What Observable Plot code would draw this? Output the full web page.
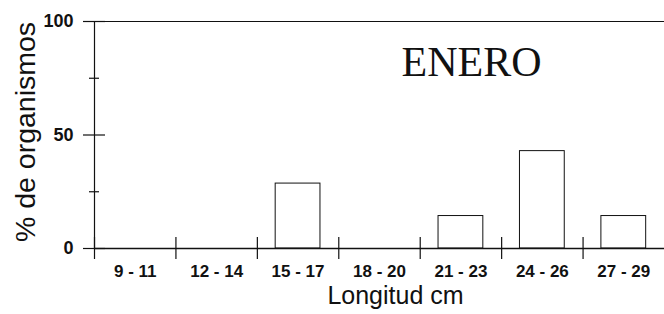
<!DOCTYPE html>
<html>
<head>
<meta charset="utf-8">
<script src="https://cdn.jsdelivr.net/npm/d3@7"></script>
<script src="https://cdn.jsdelivr.net/npm/@observablehq/plot@0.6"></script>
<style>
  html, body { margin: 0; padding: 0; background: #fff; }
  #chart svg { display: block; }
</style>
</head>
<body>
<div id="chart"></div>
<script>
const categories = ["9 - 11", "12 - 14", "15 - 17", "18 - 20", "21 - 23", "24 - 26", "27 - 29"];
const percent = [0, 0, 28.6, 0, 14.3, 42.9, 14.3];
const yMajorTicks = [0, 50, 100];
const yMinorTicks = [25, 75];
const yLabel = "% de organismos";
const xLabel = "Longitud cm";
const panelTitle = "ENERO";

const rows = categories.map((c, i) => ({category: c, i, value: percent[i]}));
const bars = rows.filter(d => d.value > 0);
const boundaries = categories.map((c, i) => i);

const ink = "#111";

const chart = Plot.plot({
  width: 664,
  height: 314,
  marginLeft: 94,
  marginRight: 0,
  marginTop: 21,
  marginBottom: 66,
  style: {fontFamily: "'Liberation Sans', Arial, sans-serif", background: "#fff", color: ink},
  x: {domain: [0, categories.length], axis: null},
  y: {domain: [0, 100], axis: null},
  marks: [
    // bars
    Plot.rectY(bars, {x1: d => d.i + 0.225, x2: d => d.i + 0.775, y: "value", fill: "#fff", stroke: ink, strokeWidth: 1}),
    // top frame line & zero line
    Plot.ruleY([100], {stroke: ink, strokeWidth: 1.2}),
    Plot.ruleY([0], {stroke: ink, strokeWidth: 1.4}),
    // y axis line
    Plot.ruleX([0], {stroke: ink, strokeWidth: 1.2}),
    // category boundary ticks crossing the x axis
    Plot.ruleX(boundaries, {x: d => d, y1: () => 0, y2: () => 0, insetTop: 11, insetBottom: 11, stroke: ink, strokeWidth: 1.2}),
    // y ticks crossing the axis
    Plot.ruleY(yMajorTicks, {y: d => d, x1: () => 0, x2: () => 0, insetLeft: 11, insetRight: 11, stroke: ink, strokeWidth: 1.2}),
    Plot.ruleY(yMinorTicks, {y: d => d, x1: () => 0, x2: () => 0, insetLeft: 5, insetRight: 5, stroke: ink, strokeWidth: 1.2}),
    // y tick labels
    Plot.text(yMajorTicks, {x: () => 0, y: d => d, text: d => String(d), dx: -21, textAnchor: "end", fontSize: 18, fontWeight: "bold", fill: ink}),
    // x category labels
    Plot.text(rows, {x: d => d.i + 0.5, y: () => 0, text: "category", dy: 23, fontSize: 17, fontWeight: "bold", fill: ink}),
    // axis titles
    Plot.text([xLabel], {frameAnchor: "bottom", textAnchor: "middle", lineAnchor: "middle", text: d => d, dx: 16, dy: 47, fontSize: 25, fill: ink}),
    Plot.text([yLabel], {frameAnchor: "left", textAnchor: "middle", lineAnchor: "middle", text: d => d, rotate: -90, dx: -69, dy: -3, fontSize: 28.5, fill: ink}),
    // panel title
    Plot.text([panelTitle], {frameAnchor: "top", textAnchor: "middle", lineAnchor: "middle", text: d => d, dx: 92, dy: 41, fontSize: 42, fontFamily: "'Liberation Serif', 'Times New Roman', serif", fill: ink})
  ]
});

document.getElementById("chart").appendChild(chart);
</script>
</body>
</html>
